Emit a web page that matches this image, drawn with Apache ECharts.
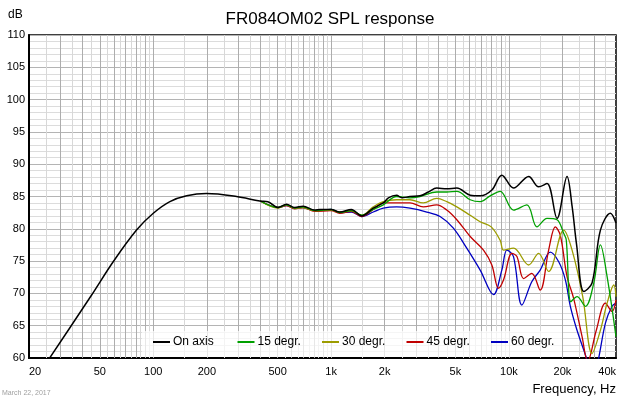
<!DOCTYPE html>
<html><head><meta charset="utf-8">
<script src="https://cdn.jsdelivr.net/npm/echarts@6/dist/echarts.min.js"></script>
<style>html,body{margin:0;padding:0;background:#fff}#c{width:619px;height:397px}</style>
</head><body><div id="c"></div>
<script>
const xTickLabels = [20,50,100,200,500,1000,2000,5000,10000,20000,40000];
const seriesNames = ['On axis','15 degr.','30 degr.','45 degr.','60 degr.'];

const onAxisFreq = [20,25.7,45,59.5,80.5,100,124,154,199,294,397,441,503,561,624,695,809,863,1000,1117,1300,1486,1726,1965,2100,2335,2500,2777,3162,3523,3926,4470,5092,6055,6890,8013,9120,10610,12910,14690,16380,18640,21220,22650,24000,26370,29330,32690,37200,40000];
const onAxisDb   = [55.3,59.7,69.75,74.9,79.8,82.4,84.2,85.1,85.45,85.0,84.3,84.2,83.3,83.8,83.3,83.5,82.9,83.0,83.0,82.6,83.0,82.0,83.2,84.0,84.8,85.2,84.8,85.0,85.1,85.7,86.3,86.2,86.3,85.2,85.1,86.0,88.3,86.3,88.1,86.5,87.0,81.6,88.1,83.5,77.6,70.3,71.6,79.8,82.4,80.9];

const deg15Freq = [400,503,561,624,695,809,1000,1117,1300,1486,1726,1965,2335,2777,3162,3926,4470,5092,6055,6890,7840,8930,10610,12620,14370,16380,18640,20320,21000,22300,24150,26920,29990,32690,35650,40000];
const deg15Db   = [84.3,83.3,83.7,83.2,83.4,82.8,83.0,82.5,82.8,82.1,83.0,83.7,85.0,84.8,85.0,85.7,85.7,85.8,84.5,84.2,85.1,85.8,82.9,83.7,80.3,81.6,81.4,79.3,78.3,68.7,69.5,68.0,71.6,77.5,72.6,63.3];

const deg30Freq = [400,503,561,624,695,809,1000,1117,1300,1486,1726,1965,2335,2777,3300,3926,4470,5092,6055,6890,7950,8930,9330,10610,12910,14690,16720,20320,22650,26000,29330,32690,35650,38900,40000];
const deg30Db   = [84.3,83.2,83.7,83.2,83.3,82.8,82.9,82.6,82.8,82.1,83.4,84.2,84.5,84.5,84.0,84.7,84.2,83.4,82.1,81.1,80.3,78.2,76.7,77.0,74.4,76.2,73.4,79.8,76.7,69.5,60.7,64.3,68.5,71.3,69.5];

const deg45Freq = [400,503,561,624,695,809,1000,1117,1300,1486,1726,1965,2335,2777,3300,3926,4470,5092,6055,7195,8013,8730,9330,10390,11090,12090,13440,14980,16720,18240,19450,21220,23130,25780,27700,31000,34880,38010,40000];
const deg45Db   = [84.3,83.3,83.6,83.1,83.3,82.7,82.8,82.4,82.7,81.9,83.0,84.0,84.0,84.0,83.4,83.7,82.9,81.4,78.8,76.7,74.4,70.8,72.1,76.2,75.7,72.3,73.1,70.5,76.7,80.3,79.0,72.6,69.2,63.3,59.5,64.3,68.5,67.2,69.0];

const deg60Freq = [400,503,561,624,695,809,1000,1117,1300,1486,1726,1965,2335,2777,3452,4100,4870,5790,6890,8190,9120,9740,10610,11830,13440,14980,17070,19050,20760,22150,24150,27500,29500,31800,34880,38010,40000];
const deg60Db   = [84.3,83.3,83.6,83.2,83.3,82.8,83.0,82.5,82.6,81.9,82.6,83.2,83.4,83.2,82.6,81.9,80.1,77.0,73.6,69.8,73.6,76.7,75.7,68.2,71.8,73.6,76.4,74.9,72.1,68.0,64.3,59.7,56.5,59.7,65.4,68.0,68.5];

const seriesColors = ['#000000','#00a000','#9c9c00','#c00000','#0000c0'];
const freqSets = [onAxisFreq,deg15Freq,deg30Freq,deg45Freq,deg60Freq];
const dbSets = [onAxisDb,deg15Db,deg30Db,deg45Db,deg60Db];

function pairs(f, d){ return f.map((v,i)=>[v,d[i]]); }

// vertical log grid: every half-step of the mantissa
const gridLines = [];
for (let k = 1; k <= 4; k++) {
  for (let m = 1; m < 10; m += 0.5) {
    const f = m * Math.pow(10, k);
    if (f > 20 && f < 40000) {
      gridLines.push({xAxis: f, lineStyle: {color: (m % 1 === 0) ? '#adadad' : '#d8d8d8', width: 1, type: 'solid'}});
    }
  }
}

const FONT = 'Liberation Sans, Arial, sans-serif';
const chart = echarts.init(document.getElementById('c'), null, {renderer: 'canvas'});

const series = [{
  type: 'line', name: '_grid', data: [], z: 1, silent: true,
  markLine: {z: 1, silent: true, symbol: ['none','none'], label: {show: false}, animation: false, data: gridLines}
}];
for (let i = seriesNames.length - 1; i >= 0; i--) {
  series.push({
    type: 'line', name: seriesNames[i], data: pairs(freqSets[i], dbSets[i]),
    showSymbol: false, symbol: 'none', smooth: 0.35, clip: true,
    lineStyle: {color: seriesColors[i], width: i === 0 ? 1.5 : 1.3},
    itemStyle: {color: seriesColors[i]},
    z: 3 + (seriesNames.length - i)
  });
}

const legends = seriesNames.map((n, i) => ({
  data: [n], left: 153 + 84.5 * i, top: 336, padding: 0, itemGap: 0,
  itemWidth: 17, itemHeight: 2, icon: 'rect', z: 10,
  textStyle: {fontSize: 12, fontFamily: FONT, color: '#000', padding: [0, 0, 0, -2]},
  selectedMode: false
}));

chart.setOption({
  animation: false,
  backgroundColor: '#fff',
  grid: {left: 29, right: 2, top: 35, bottom: 39, show: true, borderColor: '#000', borderWidth: 1.5, backgroundColor: 'transparent'},
  xAxis: {
    type: 'log', logBase: 10, min: 20, max: 40000,
    axisLine: {show: true, lineStyle: {color: '#000', width: 2}},
    axisTick: {show: false},
    splitLine: {show: false},
    axisLabel: {
      customValues: xTickLabels, fontSize: 11, fontFamily: FONT, color: '#000', margin: 8,
      alignMinLabel: 'left', alignMaxLabel: 'right',
      formatter: v => v >= 1000 ? (v/1000) + 'k' : String(v)
    }
  },
  yAxis: {
    type: 'value', min: 60, max: 110, interval: 5,
    axisLine: {show: true, lineStyle: {color: '#000', width: 2}},
    axisTick: {show: false},
    axisLabel: {fontSize: 11, fontFamily: FONT, color: '#000', margin: 4},
    splitLine: {show: true, lineStyle: {color: '#b4b4b4', width: 1}},
    minorTick: {show: false, splitNumber: 5},
    minorSplitLine: {show: true, lineStyle: {color: '#dcdcdc', width: 1}}
  },
  legend: legends,
  graphic: [
    {type: 'rect', z: 3, silent: true, shape: {x: 142, y: 331, width: 420, height: 26}, style: {fill: 'rgba(255,255,255,0.7)'}},
    {type: 'text', x: 330, y: 19, style: {text: 'FR084OM02 SPL response', font: '17px ' + FONT, fill: '#000', textAlign: 'center', textVerticalAlign: 'middle'}},
    {type: 'text', x: 8, y: 15, style: {text: 'dB', font: '12px ' + FONT, fill: '#000', textAlign: 'left', textVerticalAlign: 'middle'}},
    {type: 'text', x: 616, y: 389, style: {text: 'Frequency, Hz', font: '13px ' + FONT, fill: '#000', textAlign: 'right', textVerticalAlign: 'middle'}},
    {type: 'text', x: 2, y: 393, style: {text: 'March 22, 2017', font: '7px ' + FONT, fill: '#a0a0a0', textAlign: 'left', textVerticalAlign: 'middle'}}
  ],
  series: series
});
</script>
</body></html>
